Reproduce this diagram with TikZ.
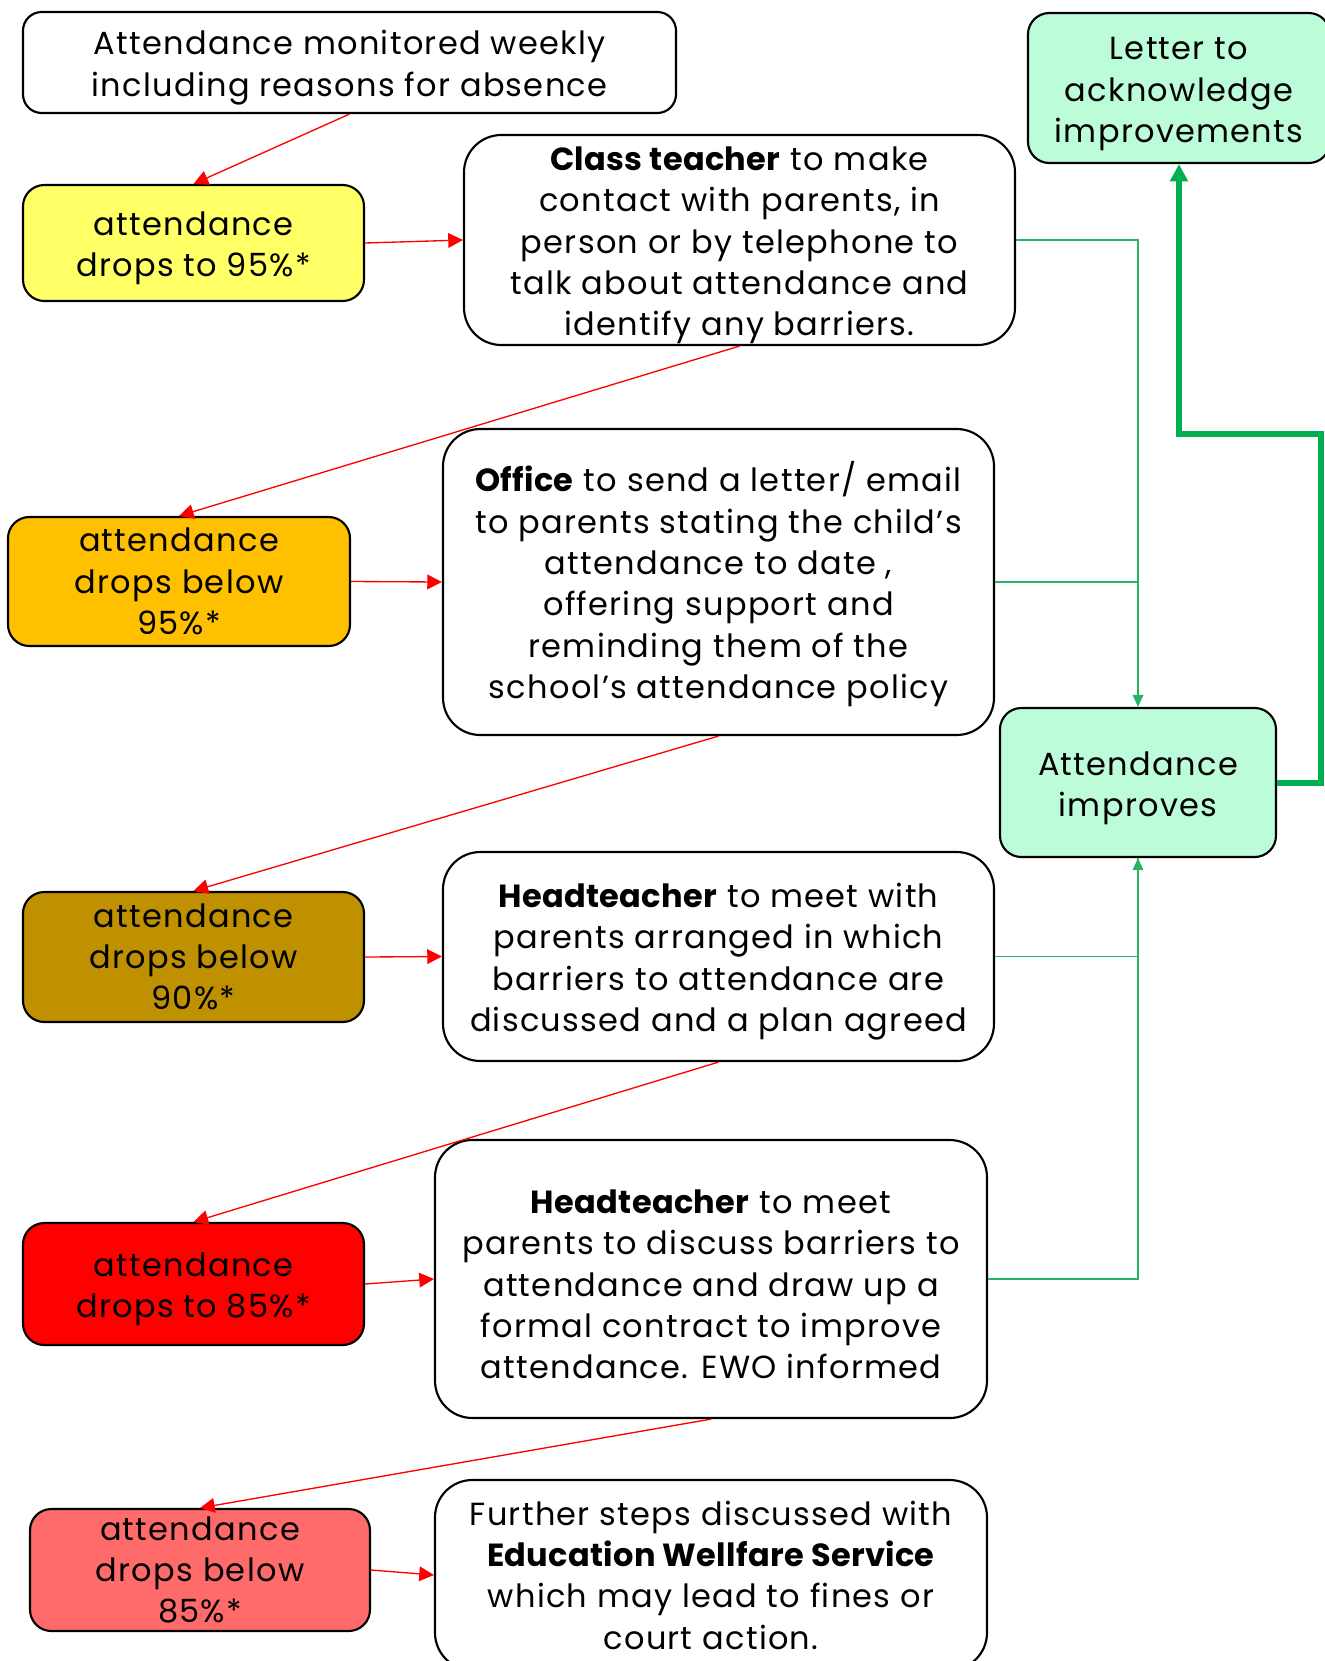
\documentclass[tikz,border=0pt]{standalone}
\usepackage{fontspec}
\setmainfont{Poppins}[LetterSpace=4, BoldFeatures={LetterSpace=1}]
\usetikzlibrary{arrows.meta}

\definecolor{yelfill}{RGB}{255,255,102}
\definecolor{orgfill}{RGB}{255,192,0}
\definecolor{brnfill}{RGB}{191,144,0}
\definecolor{redfill}{RGB}{255,0,0}
\definecolor{pnkfill}{RGB}{255,107,107}
\definecolor{mintfill}{RGB}{189,252,217}
\definecolor{thingreen}{RGB}{40,180,100}
\definecolor{thickgreen}{RGB}{0,176,80}

% strut on the first line, to sit the text a little lower in its box
\newcommand{\topgap}{\rule{0pt}{26pt}}

\tikzset{
  stepbox/.style={draw=black, line width=1.6pt, rounded corners=28pt, inner sep=0pt,
    align=center, font=\fontsize{24}{31}\selectfont},
  dropbox/.style={stepbox, rounded corners=16pt},
  redarrow/.style={draw=red, line width=1pt, -{Triangle[length=11pt,width=11pt]}},
  greenline/.style={draw=thingreen, line width=1pt},
  greenarrow/.style={greenline, -{Triangle[length=9pt,width=8pt]}},
  boldgreen/.style={draw=thickgreen, line width=4.5pt, -{Triangle[length=13pt,width=13pt]}}
}

\begin{document}
\begin{tikzpicture}[x=0.75pt,y=0.75pt,yscale=-1,xscale=1]
\useasboundingbox (0,0) rectangle (1325,1661);

% Left column
\node[dropbox, rounded corners=14pt, minimum width=489.75pt, minimum height=75.75pt] (mon) at (349.5,62.5)
  {\topgap Attendance monitored weekly\\including reasons for absence};
\node[dropbox, fill=yelfill, minimum width=255.75pt, minimum height=87pt] (d95) at (193.5,243)
  {\topgap attendance\\drops to 95\%*};
\node[dropbox, fill=orgfill, minimum width=256.5pt, minimum height=96.75pt] (b95) at (179,581.5)
  {attendance\\drops below\\95\%*};
\node[dropbox, fill=brnfill, minimum width=255.75pt, minimum height=97.5pt] (b90) at (193.5,957)
  {attendance\\drops below\\90\%*};
\node[dropbox, fill=redfill, minimum width=255.75pt, minimum height=91.5pt] (d85) at (193.5,1284)
  {\topgap attendance\\drops to 85\%*};
\node[dropbox, fill=pnkfill, minimum width=255pt, minimum height=91.5pt] (b85) at (200,1570)
  {attendance\\drops below\\85\%*};

% Middle column
\node[stepbox, minimum width=413.25pt, minimum height=157.5pt] (cls) at (739.5,240)
  {\topgap\textbf{Class teacher} to make\\contact with parents, in\\person or by telephone to\\talk about attendance and\\identify any barriers.};
\node[stepbox, minimum width=413.25pt, minimum height=229.5pt] (off) at (718.5,582)
  {\topgap\textbf{Office} to send a letter/ email\\to parents stating the child’s\\attendance to date ,\\offering support and\\reminding them of the\\school’s attendance policy};
\node[stepbox, minimum width=413.25pt, minimum height=156.75pt] (hd1) at (718.5,956.5)
  {\topgap\textbf{Headteacher} to meet with\\parents arranged in which\\barriers to attendance are\\discussed and a plan agreed};
\node[stepbox, minimum width=414pt, minimum height=208.5pt] (hd2) at (711,1279)
  {\topgap\textbf{Headteacher} to meet\\parents to discuss barriers to\\attendance and draw up a\\formal contract to improve\\attendance. EWO informed};
\node[stepbox, minimum width=414pt, minimum height=142.5pt] (fur) at (711,1575)
  {Further steps discussed with\\\textbf{Education Wellfare Service}\\which may lead to fines or\\court action.};

% Right column
\node[dropbox, fill=mintfill, minimum width=226.5pt, minimum height=112.5pt] (ltr) at (1179,88)
  {\topgap Letter to\\acknowledge\\improvements};
\node[dropbox, fill=mintfill, minimum width=207pt, minimum height=111.75pt] (imp) at (1138,782.5)
  {\topgap Attendance\\improves};
\coordinate (bend) at (1321,434);

% Red arrows
\draw[redarrow] (mon.south) -- (d95.north);
\draw[redarrow] (d95.east) -- (cls.west);
\draw[redarrow] (cls.south) -- (b95.north);
\draw[redarrow] (b95.east) -- (off.west);
\draw[redarrow] (off.south) -- (b90.north);
\draw[redarrow] (b90.east) -- (hd1.west);
\draw[redarrow] (hd1.south) -- (d85.north);
\draw[redarrow] (d85.east) -- (hd2.west);
\draw[redarrow] (hd2.south) -- (b85.north);
\draw[redarrow] (b85.east) -- (fur.west);

% Green connectors
\draw[greenarrow] (cls.east) -| (imp.north);
\draw[greenline] (off.east) -- (off.east -| imp.north);
\draw[greenarrow] (hd1.east) -| (imp.south);
\draw[greenline] (hd2.east) -| (imp.south);
\draw[boldgreen] (imp.east) -| (bend) -| (ltr.south);

\end{tikzpicture}
\end{document}
